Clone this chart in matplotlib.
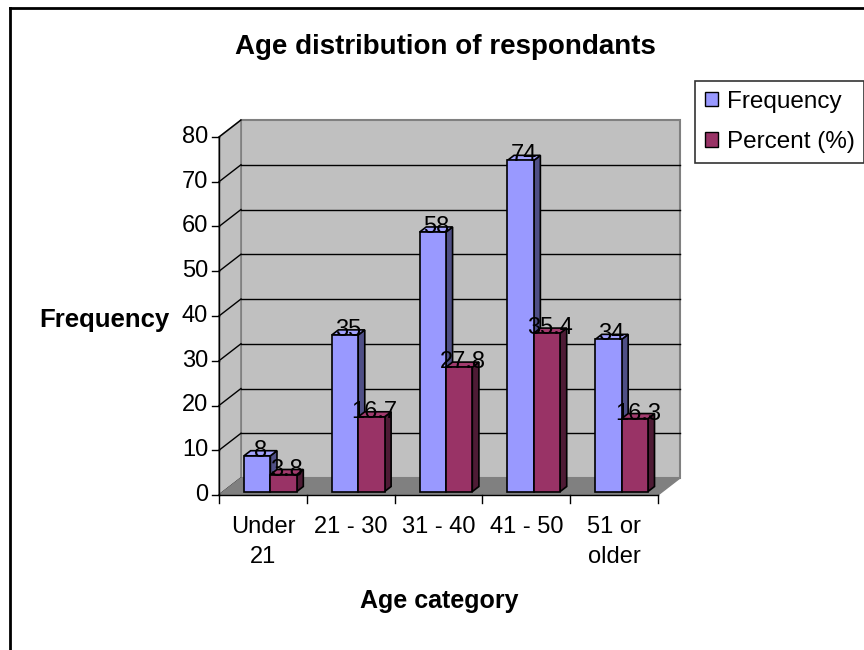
import matplotlib
matplotlib.use("Agg")
import matplotlib.pyplot as plt
from matplotlib.patches import Polygon, Patch
from matplotlib.lines import Line2D

plt.rcParams['font.family'] = ['Liberation Sans', 'DejaVu Sans']

# ---- data ----
categories = ["Under\n21", "21 - 30", "31 - 40", "41 - 50", "51 or\nolder"]
frequency = [8, 35, 58, 74, 34]
percent = [3.8, 16.7, 27.8, 35.4, 16.3]
freq_labels = ["8", "35", "58", "74", "34"]
pct_labels = ["3.8", "16.7", "27.8", "35.4", "16.3"]
series_names = ["Frequency", "Percent (%)"]
y_ticks = [0, 10, 20, 30, 40, 50, 60, 70, 80]

# ---- styling ----
W, H = 864, 650
front_col = ["#9999FF", "#993366"]
side_col = ["#4F4F86", "#4E1B35"]
top_col = ["#A3A3FF", "#A23B6E"]
wall_col = "#C0C0C0"
floor_col = "#808080"
edge_gray = "#808080"
fs_tick = 17

fig = plt.figure(figsize=(W / 100, H / 100), dpi=100)
fig.patch.set_facecolor("white")

# front plane of the 3-D plot area (pixels)
px_left, px_right, px_bottom, px_top = 219, 658, 495, 137
ax = fig.add_axes([px_left / W, 1 - px_bottom / H,
                   (px_right - px_left) / W, (px_bottom - px_top) / H])
ncat = len(categories)
ymax = y_ticks[-1]
ax.set_xlim(0, ncat)
ax.set_ylim(0, ymax)
ax.axis("off")

# data units per pixel
kx = ncat / (px_right - px_left)
ky = ymax / (px_bottom - px_top)
DX, DY = 22 * kx, 17 * ky          # full depth of the box


def poly(pts, fc, ec="black", lw=1.0, z=1):
    ax.add_patch(Polygon(pts, closed=True, facecolor=fc, edgecolor=ec,
                         linewidth=lw, zorder=z, clip_on=False,
                         joinstyle="miter"))


def line(xs, ys, color="black", lw=1.0, z=2):
    ax.add_line(Line2D(xs, ys, color=color, linewidth=lw, zorder=z,
                       clip_on=False))


# back wall, side wall, floor
poly([(DX, DY), (ncat + DX, DY), (ncat + DX, ymax + DY), (DX, ymax + DY)],
     wall_col, ec=edge_gray, lw=1.5, z=1)
poly([(0, 0), (0, ymax), (DX, ymax + DY), (DX, DY)],
     wall_col, ec=edge_gray, lw=1.2, z=1.5)
for v in y_ticks[1:-1]:
    line([DX, ncat + DX], [v + DY, v + DY], color="black", lw=1.0, z=2)
for v in y_ticks:
    line([0, DX], [v, v + DY], color="black", lw=1.0, z=2.2)
poly([(0, 0), (ncat, 0), (ncat + DX, DY), (DX, DY)],
     floor_col, ec=floor_col, lw=1.0, z=3)

# axis lines and ticks
line([0, 0], [0, ymax], z=6)
line([0, ncat], [0, 0], z=6)
for v in y_ticks:
    line([-7 * kx, 0], [v, v], z=6)
    ax.text(-11 * kx, v, str(v), ha="right", va="center", fontsize=fs_tick)
for i in range(ncat + 1):
    line([i, i], [0, -8 * ky], z=6)
for i, c in enumerate(categories):
    ax.text(i + 0.5, -21 * ky, c, ha="center", va="top", fontsize=fs_tick,
            linespacing=1.45, multialignment="center")

# bars
f0, f1 = 0.2, 0.5
start, bw = 0.235, 0.3
for i in range(ncat):
    for s, vals in enumerate([frequency, percent]):
        v = vals[i]
        x0 = i + start + s * bw + f0 * DX
        x1 = x0 + bw
        y0 = f0 * DY
        ddx, ddy = (f1 - f0) * DX, (f1 - f0) * DY
        z = 10 + i * 2 + s
        poly([(x1, y0), (x1 + ddx, y0 + ddy), (x1 + ddx, v + y0 + ddy),
              (x1, v + y0)], side_col[s], lw=1.2, z=z)
        poly([(x0, v + y0), (x1, v + y0), (x1 + ddx, v + y0 + ddy),
              (x0 + ddx, v + y0 + ddy)], top_col[s], lw=1.2, z=z)
        poly([(x0, y0), (x1, y0), (x1, v + y0), (x0, v + y0)],
             front_col[s], lw=1.2, z=z)
        lab = [freq_labels, pct_labels][s][i]
        ax.text((x0 + x1) / 2 + ddx / 2, v + y0 - 1 * ky, lab,
                ha="center", va="baseline", fontsize=fs_tick, zorder=30)

# titles
fig.text(445 / W, 1 - 47 / H, "Age distribution of respondants",
         ha="center", va="center", fontsize=20, fontweight="bold")
fig.text(439 / W, 1 - 601 / H, "Age category",
         ha="center", va="center", fontsize=18, fontweight="bold")
fig.text(104 / W, 1 - 320 / H, "Frequency",
         ha="center", va="center", fontsize=18.5, fontweight="bold")

# legend
handles = [Patch(facecolor=front_col[k], edgecolor="black", linewidth=1.0)
           for k in range(2)]
leg = fig.legend(handles, series_names, loc="upper left",
                 bbox_to_anchor=(695 / W, 1 - 81 / H), fontsize=17.5,
                 frameon=True, fancybox=False, edgecolor="black",
                 handlelength=0.55, handleheight=0.55, handletextpad=0.35,
                 labelspacing=0.75, borderpad=0.4, borderaxespad=0)
leg.get_frame().set_linewidth(1.2)

# chart border
fig.add_artist(Line2D([10 / W, 10 / W], [0, 1 - 8 / H], color="black",
                      linewidth=2, transform=fig.transFigure))
fig.add_artist(Line2D([10 / W, 1], [1 - 8 / H, 1 - 8 / H], color="black",
                      linewidth=2, transform=fig.transFigure))

fig.savefig("out.png", dpi=100)
